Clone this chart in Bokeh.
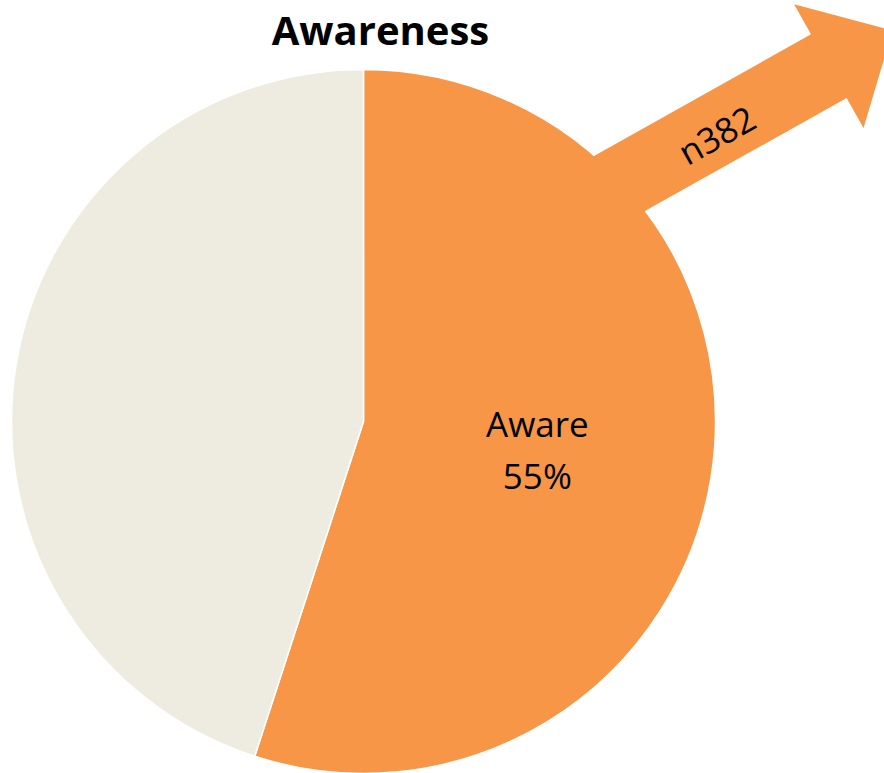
import math
import numpy as np
from bokeh.plotting import figure
from bokeh.models import Range1d, ColumnDataSource
from bokeh.core.properties import value
from bokeh.embed import file_html
from bokeh.resources import INLINE

# ---- data ----
categories = ["Aware", "Not aware"]
shares = [55, 45]
colors = ["#F79646", "#EEECE1"]
title_text = "Awareness"
sample_label = "n382"

W, H = 884, 773
p = figure(width=W, height=H, output_backend="svg", toolbar_location=None,
           x_range=Range1d(0, W), y_range=Range1d(0, H), min_border=0)
p.axis.visible = False
p.grid.visible = False
p.outline_line_color = None
p.background_fill_color = "white"
p.border_fill_color = "white"

# pie geometry
cx, cy, R = 363, 352, 352
tot = sum(shares)
fr = np.array(shares) / tot
# Aware goes clockwise from 12 o'clock
start_top = math.pi / 2
ends = []
starts = []
cur = start_top
for f in fr:
    nxt = cur - f * 2 * math.pi
    starts.append(nxt)
    ends.append(cur)
    cur = nxt
src = ColumnDataSource(dict(start=starts, end=ends, color=colors, cat=categories))
p.wedge(x=cx, y=cy, radius=R, start_angle="start", end_angle="end",
        fill_color="color", line_color="white", line_width=1.5, source=src)

# arrow (decoration)
tail = (560, 557)
tip = (892, 743)
shaft_hw, head_hw, head_len = 36.5, 71, 73
ang = math.atan2(tip[1] - tail[1], tip[0] - tail[0])
L = math.hypot(tip[0] - tail[0], tip[1] - tail[1])
ux, uy = math.cos(ang), math.sin(ang)
nx, ny = -uy, ux
def pt(t, s):
    return (tail[0] + ux * t + nx * s, tail[1] + uy * t + ny * s)
poly = [pt(0, shaft_hw), pt(L - head_len, shaft_hw), pt(L - head_len, head_hw),
        pt(L, 0), pt(L - head_len, -head_hw), pt(L - head_len, -shaft_hw), pt(0, -shaft_hw)]
p.patch([q[0] for q in poly], [q[1] for q in poly], fill_color=colors[0], line_color=None)

# n382 label on arrow
lx, ly = 716, H - 134
p.text(x=[lx], y=[ly], text=[sample_label], angle=ang, text_align="center",
       text_baseline="middle", text_font=value("Open Sans"), text_font_size="35px",
       text_color="black")

# slice label
mid = (starts[0] + ends[0]) / 2
tx = cx + 0.5 * R * math.cos(mid)
ty = cy + 0.5 * R * math.sin(mid)
p.text(x=[tx], y=[ty], text=[categories[0]], y_offset=-26, text_align="center",
       text_baseline="middle", text_font=value("Open Sans"), text_font_size="35px",
       text_color="black")
p.text(x=[tx], y=[ty], text=[f"{shares[0]}%"], y_offset=26, text_align="center",
       text_baseline="middle", text_font=value("Open Sans"), text_font_size="35px",
       text_color="black")

# title
p.text(x=[380], y=[H - 1], text=[title_text], text_align="center",
       text_baseline="top", text_font=value("Open Sans"), text_font_style="bold",
       text_font_size="40px", text_color="black")

open("out.html", "w").write(file_html(p, INLINE))
